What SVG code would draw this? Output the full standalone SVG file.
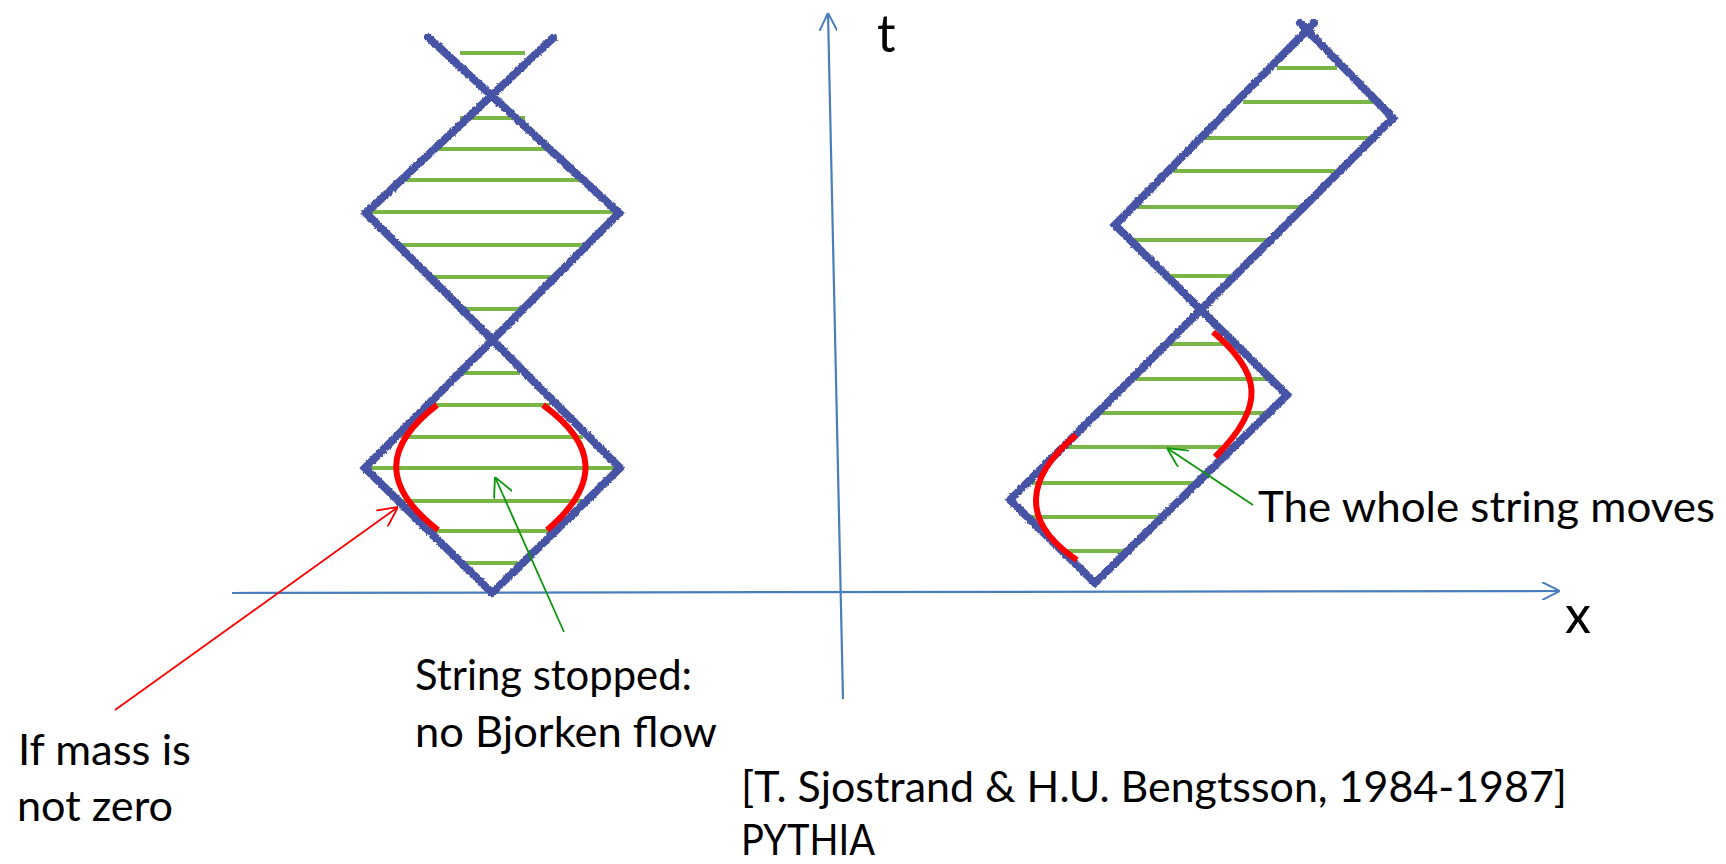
<svg xmlns="http://www.w3.org/2000/svg" width="1726" height="864" viewBox="0 0 1726 864">
  <style>
    .hatch { stroke: #7ab547; stroke-width: 4; fill: none; }
    .world { stroke: #4752a4; stroke-width: 8; fill: none; stroke-linejoin: miter; stroke-linecap: round; }
    .massive { stroke: #ff0000; stroke-width: 6; fill: none; stroke-linecap: butt; }
    .axis { stroke: #4a7ebb; stroke-width: 2.2; fill: none; }
    .label { font-family: Lato, "Open Sans", "Liberation Sans", sans-serif; fill: #000; font-size: 42px; }
    .axislabel { font-family: Lato, "Open Sans", "Liberation Sans", sans-serif; fill: #000; font-size: 52px; }
  </style>
  <defs>
    <filter id="rough" x="-5%" y="-5%" width="110%" height="110%">
      <feTurbulence type="fractalNoise" baseFrequency="0.4" numOctaves="2" seed="3"/>
      <feDisplacementMap in="SourceGraphic" scale="3" xChannelSelector="R" yChannelSelector="G"/>
    </filter>
    <marker id="axisHead" viewBox="0 0 20 20" refX="20" refY="10" markerWidth="18" markerHeight="18" markerUnits="userSpaceOnUse" orient="auto">
      <path d="M0,0 L20,10 L0,20" fill="none" stroke="#4a7ebb" stroke-width="2.2"/>
    </marker>
    <marker id="redHead" viewBox="0 0 20 20" refX="20" refY="10" markerWidth="20" markerHeight="20" markerUnits="userSpaceOnUse" orient="auto">
      <path d="M0,0 L20,10 L0,20" fill="none" stroke="#ff0000" stroke-width="1.8"/>
    </marker>
    <marker id="greenHead" viewBox="0 0 20 20" refX="20" refY="10" markerWidth="20" markerHeight="20" markerUnits="userSpaceOnUse" orient="auto">
      <path d="M0,0 L20,10 L0,20" fill="none" stroke="#0a980a" stroke-width="1.8"/>
    </marker>
  </defs>

  <rect width="1726" height="864" fill="#ffffff"/>

  <!-- space-time axes -->
  <g id="axes">
    <line class="axis" x1="232" y1="593" x2="1560" y2="591" marker-end="url(#axisHead)"/>
    <line class="axis" x1="843" y1="699" x2="828" y2="13" marker-end="url(#axisHead)"/>
    <text class="axislabel" x="877" y="52">t</text>
    <text class="axislabel" x="1565" y="633">x</text>
  </g>

  <!-- yo-yo string at rest: hatched diamonds -->
  <g id="yoyo-rest">
    <g class="hatch">
      <line x1="460" y1="53" x2="525" y2="53"/>
      <line x1="460" y1="118" x2="525" y2="118"/>
      <line x1="438" y1="149" x2="546" y2="149"/>
      <line x1="404" y1="180" x2="580" y2="180"/>
      <line x1="368" y1="212" x2="617" y2="212"/>
      <line x1="400" y1="245" x2="584" y2="245"/>
      <line x1="433" y1="277" x2="551" y2="277"/>
      <line x1="465" y1="309" x2="520" y2="309"/>
      <line x1="464" y1="373" x2="520" y2="373"/>
      <line x1="434" y1="405" x2="550" y2="405"/>
      <line x1="401" y1="437" x2="583" y2="437"/>
      <line x1="368" y1="468" x2="618" y2="468"/>
      <line x1="401" y1="501" x2="583" y2="501"/>
      <line x1="434" y1="531" x2="550" y2="531"/>
      <line x1="466" y1="563" x2="518" y2="563"/>
    </g>
    <g filter="url(#rough)">
      <path class="world" d="M428,37 L619,213 L365,468 L492,593"/>
      <path class="world" d="M553,38 L366,213 L620,468 L492,593"/>
    </g>
    <path class="massive" d="M437,405 C385,445 380,485 438,530"/>
    <path class="massive" d="M543,405 C598,445 600,485 547,530"/>
  </g>

  <!-- boosted yo-yo string: hatched rectangles -->
  <g id="yoyo-moving">
    <g class="hatch">
      <line x1="1277" y1="68" x2="1337" y2="68"/>
      <line x1="1243" y1="102" x2="1373" y2="102"/>
      <line x1="1206" y1="138" x2="1369" y2="138"/>
      <line x1="1173" y1="171" x2="1335" y2="171"/>
      <line x1="1138" y1="207" x2="1301" y2="207"/>
      <line x1="1133" y1="240" x2="1268" y2="240"/>
      <line x1="1170" y1="276" x2="1231" y2="276"/>
      <line x1="1170" y1="344" x2="1232" y2="344"/>
      <line x1="1135" y1="379" x2="1267" y2="379"/>
      <line x1="1101" y1="413" x2="1265" y2="413"/>
      <line x1="1067" y1="447" x2="1230" y2="447"/>
      <line x1="1032" y1="483" x2="1194" y2="483"/>
      <line x1="1030" y1="517" x2="1160" y2="517"/>
      <line x1="1064" y1="551" x2="1126" y2="551"/>
    </g>
    <g filter="url(#rough)">
      <path class="world" d="M1314,23 L1115,225 L1287,395 L1095,583"/>
      <path class="world" d="M1300,23 L1393,118 L1010,500 L1095,583"/>
    </g>
    <path class="massive" d="M1213,332 C1260,372 1268,405 1215,457"/>
    <path class="massive" d="M1076,435 C1025,478 1020,522 1077,560"/>
  </g>

  <!-- annotation pointers -->
  <g id="connectors">
    <line x1="115" y1="710" x2="398" y2="507" stroke="#ff0000" stroke-width="1.8" marker-end="url(#redHead)"/>
    <line x1="564" y1="632" x2="495" y2="477" stroke="#0a980a" stroke-width="1.8" marker-end="url(#greenHead)"/>
    <line x1="1253" y1="505" x2="1167" y2="448" stroke="#0a980a" stroke-width="1.8" marker-end="url(#greenHead)"/>
  </g>

  <g id="label-moves">
    <text class="label" x="1258" y="522" textLength="457" lengthAdjust="spacingAndGlyphs">The whole string moves</text>
  </g>
  <g id="label-stopped">
    <text class="label" x="415" y="690" textLength="277" lengthAdjust="spacingAndGlyphs">String stopped:</text>
    <text class="label" x="415" y="747" textLength="302" lengthAdjust="spacingAndGlyphs">no Bjorken flow</text>
  </g>
  <g id="label-mass">
    <text class="label" x="18" y="765" textLength="173" lengthAdjust="spacingAndGlyphs">If mass is</text>
    <text class="label" x="17" y="821" textLength="156" lengthAdjust="spacingAndGlyphs">not zero</text>
  </g>
  <g id="label-reference">
    <text class="label" x="741" y="802" textLength="826" lengthAdjust="spacingAndGlyphs">[T. Sjostrand &amp; H.U. Bengtsson, 1984-1987]</text>
    <text class="label" x="741" y="855" textLength="134" lengthAdjust="spacingAndGlyphs">PYTHIA</text>
  </g>
</svg>
